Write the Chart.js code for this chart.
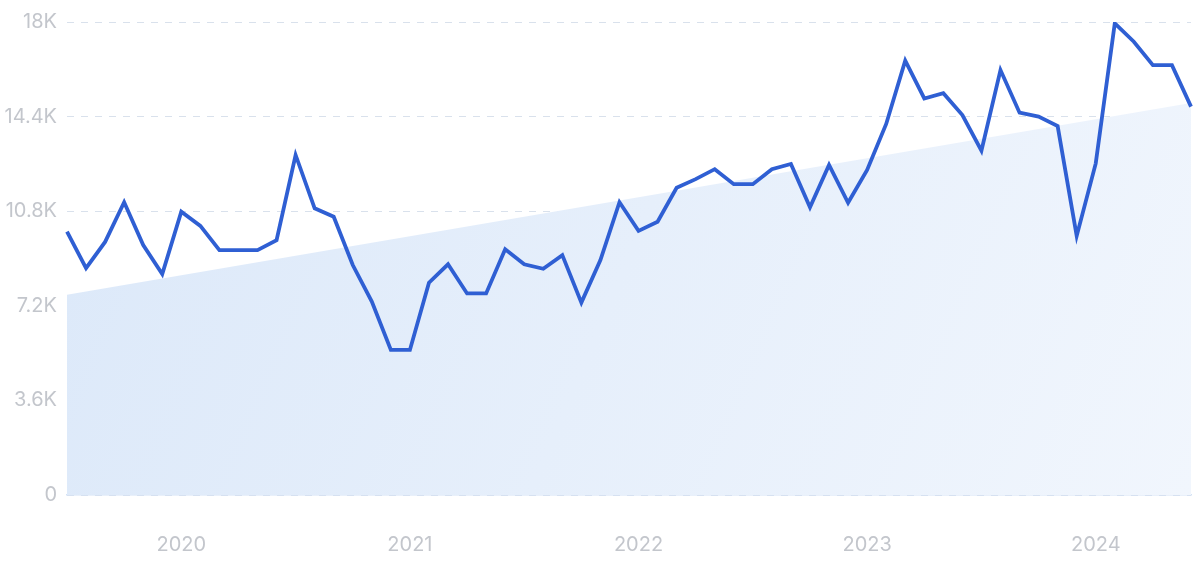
<!DOCTYPE html>
<html><head><meta charset="utf-8">
<script src="https://cdn.jsdelivr.net/npm/chart.js@4/dist/chart.umd.min.js"></script>
<style>html,body{margin:0;padding:0;background:#fff}#wrap{width:1200px;height:562px}</style>
</head><body><div id="wrap"><canvas id="c" width="1200" height="562"></canvas></div>
<script>
const months = [];
for (let y = 2019; y <= 2024; y++) for (let m = 1; m <= 12; m++) {
  if ((y === 2019 && m < 7) || (y === 2024 && m > 6)) continue;
  months.push(y + '-' + String(m).padStart(2, '0'));
}
const searches = [10020,8630,9630,11140,9510,8410,10780,10240,9320,9320,9320,9700,
  12940,10910,10590,8750,7360,5520,5520,8080,8780,7670,7670,9350,
  8780,8610,9130,7320,8940,11140,10050,10400,11690,12020,12400,11830,
  11830,12400,12600,10950,12560,11120,12370,14120,16530,15090,15290,14460,
  13100,16170,14550,14400,14040,9860,12620,17950,17250,16360,16360,14780];
const trendStart = 7620, trendEnd = 14920;
const yTicks = [0,3600,7200,10800,14400,18000];

const ctx = document.getElementById('c');
new Chart(ctx, {
  type: 'line',
  data: {
    labels: months,
    datasets: [
      { data: searches, borderColor: '#2f5fd3', borderWidth: 3.8, pointRadius: 0, tension: 0, fill: false, order: 0 },
      { data: [{x: months[0], y: trendStart}, {x: months[months.length-1], y: trendEnd}],
        borderWidth: 0, pointRadius: 0, fill: 'origin', order: 1,
        backgroundColor: (c) => {
          const a = c.chart.chartArea; if (!a) return '#e3eefb';
          const g = c.chart.ctx.createLinearGradient(a.left, a.top, a.right, a.bottom);
          g.addColorStop(0, '#dbe8f9'); g.addColorStop(1, '#f1f6fd'); return g;
        } }
    ]
  },
  options: {
    responsive: false, animation: false,
    layout: { padding: { top: 22, right: 9, left: 0, bottom: 0 } },
    plugins: { legend: { display: false }, tooltip: { enabled: false } },
    scales: {
      x: {
        offset: false,
        grid: { display: false },
        border: { display: true, color: '#d3e2f5', width: 1.5 },
        ticks: { autoSkip: false, maxRotation: 0, padding: 30, color: '#c3c6cc',
          font: { family: 'Inter', size: 20 },
          callback: function(v, i) { const l = months[i]; return l.endsWith('-01') ? l.slice(0,4) : ''; } },
        afterFit: (s) => { s.height = 67; s.paddingLeft = 0; s.paddingRight = 0; }
      },
      y: {
        min: 0, max: 18000,
        afterBuildTicks: (s) => { s.ticks = yTicks.map(v => ({value: v})); },
        grid: { color: '#d9e1ec', lineWidth: 1, drawTicks: false },
        border: { display: false, dash: [7, 7] },
        ticks: { padding: 10, color: '#c3c6cc', font: { family: 'Inter', size: 20 },
          callback: (v) => v === 0 ? '0' : (v / 1000) + 'K' },
        afterFit: (s) => { s.width = 67; }
      }
    }
  }
});
</script></body></html>
